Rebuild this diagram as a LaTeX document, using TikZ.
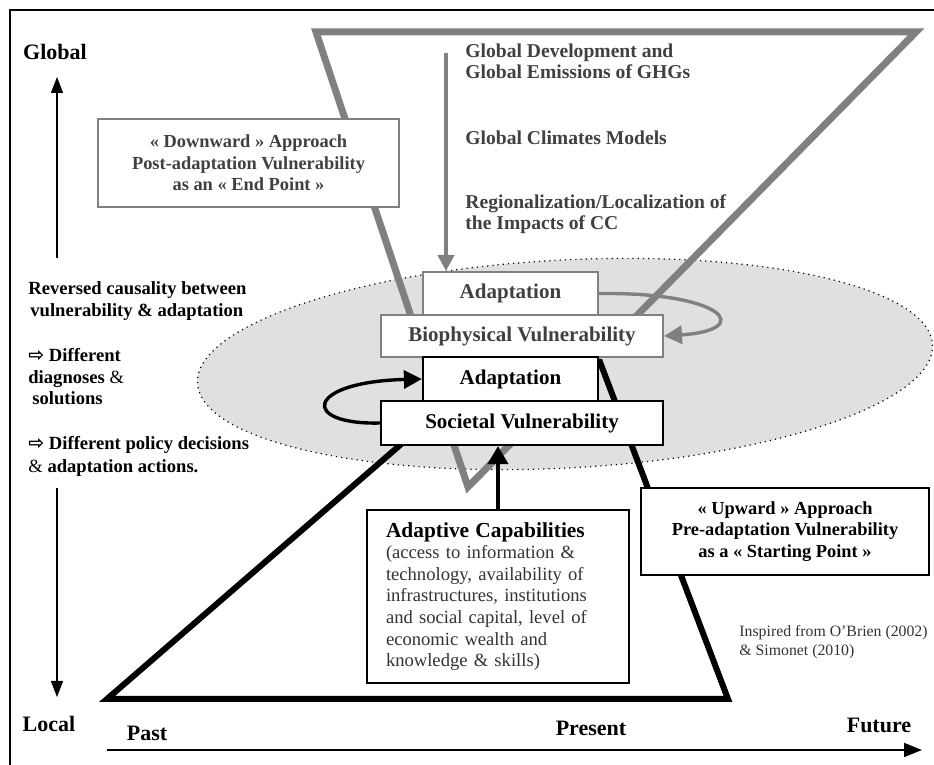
\documentclass[tikz,border=0pt]{standalone}
\usepackage{fontspec}
\setmainfont{Liberation Serif}
\newfontfamily\arrowfont{DejaVu Sans}
\usetikzlibrary{arrows.meta}

\newcommand{\wopen}{{\arrowfont\fontsize{9.5}{9.5}\selectfont ⇨}}

\begin{document}
\begin{tikzpicture}[x=0.5pt, y=-0.5pt,
    graybox/.style={draw=gray, line width=1pt, fill=white, text=black!75, inner sep=0pt},
    blackbox/.style={draw=black, line width=1.1pt, fill=white, text=black, inner sep=0pt},
    midfont/.style={font=\bfseries\fontsize{10.5}{12}\selectfont},
    smallfont/.style={font=\bfseries\fontsize{9.2}{10.75}\selectfont, align=center},
    axislbl/.style={font=\bfseries\fontsize{11}{13}\selectfont, inner sep=0pt},
    sidetext/.style={font=\bfseries\fontsize{9.3}{11}\selectfont, align=left, anchor=west, inner sep=0pt},
    flowtext/.style={font=\bfseries\fontsize{9.8}{10.5}\selectfont, text=black!75, align=left, anchor=west, inner sep=0pt},
  ]
  \useasboundingbox (0,0) rectangle (934,765);

  % Frame
  \draw[line width=1pt] (934,10) -- (10,10) -- (10,765);

  % Shaded ellipse
  \draw[dotted, line width=0.6pt, fill=black!12, rotate around={3:(565,364)}] (565,364) ellipse [x radius=368, y radius=104];

  % Upward and downward shapes
  \draw[line width=3pt] (107,699) -- (496,362) -- (600,362) -- (728,699) -- cycle;
  \draw[gray, line width=3.5pt] (316,32) -- (468,487) -- (916,32) -- cycle;

  % Global chain
  \node[flowtext] (gdev) at (465,61) {Global Development and\\Global Emissions of GHGs};
  \node[flowtext] (gcm) at (465,138) {Global Climates Models};
  \node[flowtext] (reg) at (465,214) {Regionalization/Localization of\\the Impacts of CC};

  % Central boxes
  \node[graybox, midfont, minimum width=87.5pt, minimum height=21.5pt] (adaptU) at (510.5,293.5) {Adaptation};
  \node[graybox, midfont, minimum width=141pt, minimum height=21pt] (bio) at (522,336) {Biophysical Vulnerability\hspace{8pt}};
  \node[blackbox, midfont, minimum width=87.5pt, minimum height=22pt] (adaptL) at (510.5,379) {Adaptation\hspace{16pt}};
  \node[blackbox, midfont, minimum width=141pt, minimum height=22pt] (soc) at (522,423) {Societal Vulnerability};

  % Approaches
  \node[graybox, smallfont, minimum width=150.5pt, minimum height=44pt, line width=1.2pt] (down) at (248.5,163) {« Downward » Approach\\Post-adaptation Vulnerability\\as an « End Point »};
  \node[blackbox, smallfont, minimum width=144pt, minimum height=43.5pt] (up) at (785,531.5) {« Upward » Approach\\Pre-adaptation Vulnerability\\as a « Starting Point »};

  % Capabilities
  \node[blackbox, minimum width=131pt, minimum height=86.5pt, align=left, text width=112pt, text=black!80, font=\fontsize{9.3}{10.8}\selectfont] (capab) at (498,596.5)
    {\textcolor{black}{\bfseries\fontsize{10.7}{12}\selectfont Adaptive Capabilities}\\
     (access to information \&\\
     technology, availability of\\
     infrastructures, institutions\\
     and social capital, level of\\
     economic wealth and\\
     knowledge \& skills)};

  % Arrows
  \coordinate (gtop) at (446,53);
  \draw[gray, line width=2.2pt, -{Triangle[width=8pt,length=8pt]}] (gtop) -- (gtop |- adaptU.north);
  \draw[line width=2pt, -{Triangle[width=10pt,length=9pt]}] (capab.north) -- (capab.north |- soc.south);
  \draw[line width=1.7pt, -{Triangle[width=9pt,length=9pt]}] (soc.west) .. controls (300,425) and (305,382) .. (adaptL.west);
  \draw[gray, line width=1.7pt, -{Triangle[width=9pt,length=9pt]}] (adaptU.east) .. controls (725,292) and (755,330) .. (bio.east);

  % Axes
  \node[axislbl] (glob) at (55,52) {Global};
  \node[axislbl] (loc) at (49,724) {Local};
  \coordinate (uptip) at (57,77);
  \coordinate (upbot) at (57,258);
  \coordinate (dntop) at (57,488);
  \coordinate (dntip) at (57,697);
  \draw[line width=0.7pt, -{Triangle[width=6pt,length=8pt]}] (upbot) -- (uptip);
  \draw[line width=0.7pt, -{Triangle[width=6pt,length=8pt]}] (dntop) -- (dntip);
  \node[axislbl] (past) at (147,733) {Past};
  \node[axislbl] (pres) at (591,728) {Present};
  \node[axislbl] (fut) at (879,725) {Future};
  \coordinate (tstart) at (107,750);
  \coordinate (tend) at (922,750);
  \draw[line width=0.8pt, -{Triangle[width=7pt,length=9pt]}] (tstart) -- (tend);

  % Side remarks
  \node[sidetext] (revc) at (28,301) {Reversed causality between\\\hspace{1pt}vulnerability \& adaptation};
  \node[sidetext, font=\bfseries\fontsize{9.3}{10.75}\selectfont] (diag) at (28,377) {\wopen\ Different\\diagnoses \textmd{\&}\\\hspace{2pt}solutions};
  \node[sidetext, font=\bfseries\fontsize{9.3}{11.5}\selectfont] (pol) at (28,456) {\wopen\ Different policy decisions\\\textmd{\&} adaptation actions.};

  % Source
  \node[font=\fontsize{7.9}{9.5}\selectfont, text=black!80, align=left, anchor=west, inner sep=0pt] (insp) at (739,642) {Inspired from O’Brien (2002)\\\& Simonet (2010)};
\end{tikzpicture}
\end{document}
